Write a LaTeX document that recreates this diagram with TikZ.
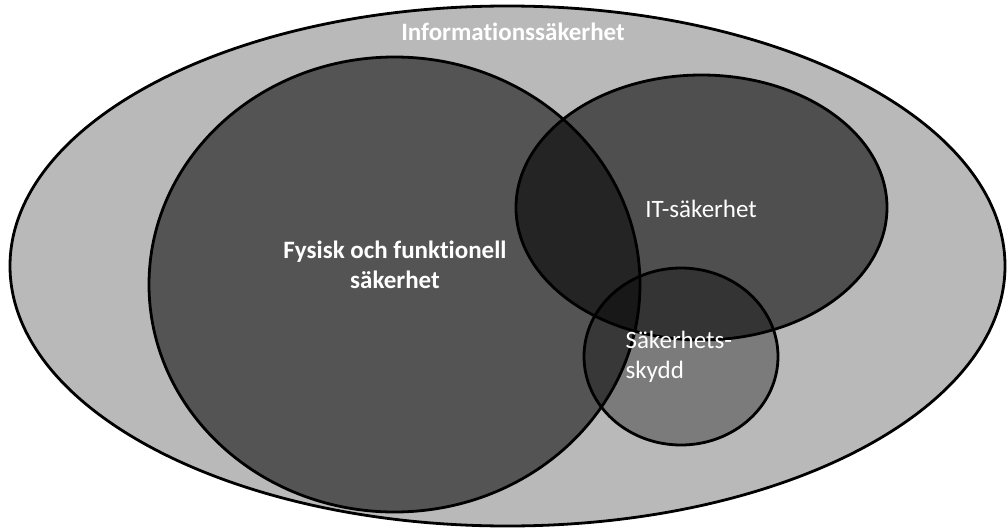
\documentclass[tikz,border=0pt]{standalone}
\usepackage{fontspec}
\setmainfont[Ligatures=NoCommon]{Carlito}
\usetikzlibrary{shapes.geometric}

\definecolor{infogray}{RGB}{185,185,185}

\begin{document}
\begin{tikzpicture}[x=1pt,y=-1pt,
    venn/.style={ellipse,draw=black,line width=2.8pt,inner sep=0pt},
    setname/.style={text=white,font=\fontsize{25}{30}\selectfont,align=center}]
    \useasboundingbox (0,0) rectangle (1007,530);
    % the sets
    \node[venn,fill=infogray,minimum width=995,minimum height=520] (info) at (507.5,266) {};
    \node[venn,fill=black,fill opacity=0.54,minimum width=491,minimum height=455] (fysisk) at (394.5,284.5) {};
    \node[venn,fill=black,fill opacity=0.57,minimum width=371,minimum height=265] (it) at (701.5,207.5) {};
    \node[venn,fill=black,fill opacity=0.335,minimum width=194,minimum height=177] (skydd) at (681,356.5) {};
    % the labels
    \node[setname,font=\fontsize{25}{30}\selectfont\bfseries] (infolabel) at (513,32) {Informationssäkerhet};
    \node[setname,font=\fontsize{25}{30}\selectfont\bfseries] (fysisklabel) at (395,265) {Fysisk och funktionell\\säkerhet};
    \node[setname] (itlabel) at (701,209) {IT-säkerhet};
    \node[setname,align=left,anchor=west] (skyddlabel) at (622,357) {Säkerhets-\\skydd};
\end{tikzpicture}
\end{document}
